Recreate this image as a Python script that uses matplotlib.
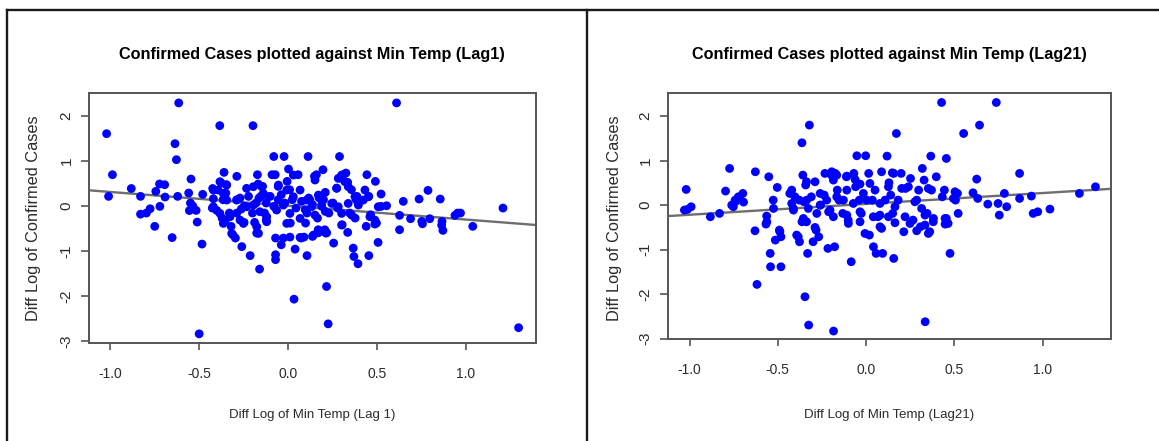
import matplotlib
matplotlib.use('Agg')
import matplotlib.pyplot as plt
import numpy as np
from matplotlib import font_manager
from matplotlib.lines import Line2D

# ---- data ----
lag1_points = [
    (-1.021, 1.607), (-0.615, 2.29), (-0.384, 1.785), (-0.197, 1.785), (0.611, 2.29),
    (-0.636, 1.385), (-0.628, 1.03), (-0.988, 0.696), (-1.01, 0.215), (-0.882, 0.39),
    (-0.83, 0.215), (-0.83, -0.18), (-0.797, -0.155), (-0.776, -0.06), (-0.75, -0.45),
    (-0.744, 0.326), (-0.723, 0.49), (-0.694, 0.474), (-0.721, -0.007), (-0.692, 0.2),
    (-0.652, -0.7), (-0.621, 0.215), (-0.546, 0.6), (-0.559, 0.29), (-0.549, 0.067),
    (-0.555, -0.1), (-0.536, 0.0), (-0.517, -0.096), (-0.511, -0.356), (-0.484, -0.844),
    (-0.5, -2.837), (-0.48, 0.26), (-0.424, 0.39), (-0.42, 0.163), (-0.426, -0.044),
    (-0.401, -0.096), (-0.36, 0.748), (-0.376, 0.51), (-0.347, 0.474), (-0.35, 0.29),
    (-0.365, 0.14), (-0.371, -0.267), (-0.354, -0.34), (-0.33, -0.155), (-0.32, -0.45),
    (-0.31, -0.64), (-0.296, -0.71), (-0.288, 0.66), (-0.288, 0.14), (-0.27, 0.178),
    (-0.263, -0.067), (-0.26, -0.9), (-0.247, -0.363), (-0.222, 0.215), (-0.213, -1.1),
    (-0.2, -0.155), (-0.188, -0.363), (-0.18, 0.067), (-0.172, 0.696), (-0.168, 0.49),
    (-0.16, -1.4), (-0.153, 0.215), (-0.176, -0.6), (-0.143, 0.437), (-0.132, -0.155),
    (-0.122, -0.304), (-0.08, 1.1), (-0.022, 1.1), (-0.09, 0.696), (-0.072, 0.696),
    (-0.07, -1.19), (-0.07, -1.08), (-0.07, -0.71), (-0.038, -0.86), (-0.026, -0.71),
    (-0.055, 0.437), (-0.055, 0.14), (-0.1, 0.215), (0.003, 0.822), (-0.005, 0.548),
    (0.009, 0.363), (-0.018, 0.067), (0.013, -0.378), (0.011, -0.689), (0.04, -0.956),
    (0.034, -2.067), (0.057, 0.696), (0.074, -0.71), (0.107, -1.1), (0.113, 1.1),
    (0.09, -0.689), (0.099, -0.378), (0.107, -0.155), (0.117, 0.178), (0.138, -0.674),
    (0.149, 0.66), (0.16, 0.696), (0.166, -0.267), (0.17, -0.526), (0.176, 0.178),
    (0.197, 0.807), (0.2, 0.14), (0.207, -0.526), (0.217, -1.785), (0.226, -2.615),
    (0.21, 0.304), (0.213, -0.6), (0.23, -0.155), (0.257, -0.822), (0.274, 0.4),
    (0.28, -0.044), (0.29, 1.1), (0.295, 0.622), (0.305, -0.415), (0.311, 0.696),
    (0.326, 0.733), (0.336, 0.526), (0.336, -0.585), (0.347, -0.155), (0.357, 0.363),
    (0.367, -0.933), (0.371, -1.12), (0.384, 0.14), (0.388, 0.215), (0.394, -1.28),
    (0.378, -0.267), (0.444, 0.696), (0.44, -0.45), (0.455, -1.1), (0.455, 0.215),
    (0.465, -0.193), (0.492, 0.548), (0.498, -0.378), (0.507, -0.807), (0.524, 0.267),
    (0.524, -0.007), (0.555, 0.007), (0.628, -0.207), (0.628, -0.526), (0.649, 0.104),
    (0.69, -0.281), (0.738, 0.156), (0.753, -0.34), (0.757, -0.393), (0.788, 0.348),
    (0.798, -0.281), (0.857, 0.156), (0.867, -0.34), (0.872, -0.54), (0.94, -0.207),
    (0.955, -0.155), (0.971, -0.155), (1.04, -0.45), (1.21, -0.044), (1.298, -2.7),
    (-0.383, 0.541), (-0.42, 0.356), (-0.393, 0.356), (-0.345, 0.467), (-0.364, 0.281),
    (-0.345, 0.133), (-0.289, 0.133), (-0.233, 0.393), (-0.195, 0.43), (-0.148, 0.43),
    (-0.139, 0.281), (-0.111, 0.207), (-0.054, 0.467), (0.03, 0.689), (-0.007, 0.356),
    (0.03, 0.207), (0.068, 0.356), (0.105, 0.133), (-0.233, -0.015), (-0.195, 0.022),
    (-0.158, -0.126), (-0.12, -0.237), (-0.064, -0.089), (-0.026, 0.022), (0.011, -0.163),
    (0.068, -0.274), (-0.42, -0.015), (-0.383, -0.163), (-0.326, -0.237), (-0.27, -0.311),
    (0.152, 0.578), (0.283, 0.615), (0.302, 0.689), (0.32, 0.541), (0.339, 0.43),
    (0.274, 0.393), (0.433, 0.356), (0.452, 0.207), (0.424, 0.133), (0.124, 0.133),
    (0.171, 0.244), (0.133, -0.015), (0.189, 0.022), (0.246, 0.059), (0.283, -0.015),
    (0.339, 0.059), (0.377, 0.207), (0.396, 0.022), (0.302, -0.163), (0.358, -0.2),
    (0.152, -0.2), (0.461, -0.237), (0.489, -0.311), (0.508, -0.015),
    (-0.364, -0.385), (-0.317, -0.607), (-0.251, -0.385), (-0.176, -0.459), (-0.166, -0.607),
    (0.068, -0.696), (-0.007, -0.385), (-0.12, -0.348),
    (0.865, -0.422), (0.143, -0.644), (0.171, -0.593), (0.218, -0.593), (0.302, -0.422),
    (0.489, -0.4),
    (-0.163, 0.178), (-0.122, 0.067), (-0.08, -0.007), (-0.038, 0.252), (0.024, 0.141),
    (0.045, -0.044), (0.076, 0.104), (0.097, -0.081), (0.138, 0.03), (0.19, -0.007),
    (0.21, -0.119), (0.253, 0.067), (-0.247, 0.0), (-0.288, -0.155),
]

lag21_points = [
    (-1.019, 0.352), (-1.029, -0.112), (-1.012, -0.097), (-0.991, -0.037), (-0.882, -0.262),
    (-0.83, -0.187), (-0.796, 0.315), (-0.773, 0.824), (-0.752, -0.037), (-0.74, 0.075),
    (-0.719, 0.15), (-0.698, 0.262), (-0.694, 0.067), (-0.627, 0.749), (-0.629, -0.577),
    (-0.618, -1.783), (-0.551, 0.637), (-0.562, -0.375), (-0.543, -1.086), (-0.541, -1.386),
    (-0.526, 0.112), (-0.524, -0.075), (-0.503, 0.397), (-0.514, -0.787), (-0.488, -0.599),
    (-0.482, -0.712), (-0.482, -1.386), (-0.432, 0.262), (-0.421, 0.037), (-0.411, -0.112),
    (-0.384, -0.712), (-0.377, -0.824), (-0.363, 1.401), (-0.358, 0.674), (-0.352, 0.075),
    (-0.363, -0.375), (-0.346, -2.06), (-0.337, 0.524), (-0.337, -0.375), (-0.331, -1.086),
    (-0.321, 1.798), (-0.325, -2.697), (-0.31, 0.187), (-0.3, -0.824), (-0.289, 0.524),
    (-0.283, -0.562), (-0.268, -0.712), (-0.258, 0.0), (-0.237, 0.225), (-0.233, 0.712),
    (-0.216, -0.974), (-0.212, -0.15), (-0.195, 0.674), (-0.184, -2.831), (-0.178, -0.936),
    (-0.174, 0.712), (-0.163, 0.337), (-0.153, 0.112), (-0.132, -0.187), (-0.111, 0.637),
    (-0.101, -0.337), (-0.084, -1.273), (-0.069, 0.712), (-0.052, 1.109), (-0.002, 1.109),
    (-0.059, 0.412), (-0.038, 0.112), (-0.027, -0.187), (-0.006, -0.637), (0.015, 0.712),
    (0.019, -0.674), (0.036, 0.112), (0.042, -0.936), (0.057, -1.086), (0.088, 0.749),
    (0.067, -0.262), (0.094, -1.086), (0.088, -0.524), (0.119, 1.101), (0.13, 0.502),
    (0.14, 0.225), (0.151, -0.187), (0.157, 0.712), (0.157, -1.199), (0.172, 1.61),
    (0.182, 0.112), (0.199, 0.712), (0.214, -0.599), (0.224, 0.375), (0.252, 0.599),
    (0.266, -0.337), (0.287, 0.112), (0.298, 0.337), (0.308, -0.487), (0.319, 0.824),
    (0.329, 0.562), (0.335, -2.622), (0.346, -0.187), (0.361, -0.599), (0.367, 1.101),
    (0.371, 0.337), (0.382, -0.3), (0.398, 0.637), (0.428, 2.307), (0.455, 1.049),
    (0.444, 0.337), (0.455, -0.3), (0.465, -0.412), (0.476, -1.086), (0.507, 0.112),
    (0.518, 0.262), (0.522, -0.187), (0.553, 1.61), (0.606, 0.277), (0.627, 0.584),
    (0.633, 0.15), (0.643, 1.798), (0.69, 0.022), (0.738, 2.307), (0.748, 0.037),
    (0.755, -0.225), (0.784, 0.262), (0.797, -0.037), (0.87, 0.712), (0.87, 0.15),
    (0.937, 0.202), (0.947, -0.187), (0.973, -0.15), (1.042, -0.09), (1.209, 0.262),
    (1.3, 0.412),
    (-0.342, 0.452), (-0.194, 0.75), (-0.166, 0.674), (-0.185, 0.562), (-0.109, 0.652),
    (-0.062, 0.577), (-0.034, 0.472), (0.022, 0.487), (0.051, 0.337), (-0.015, 0.262),
    (-0.109, 0.337), (-0.166, 0.187), (-0.223, 0.112), (-0.26, 0.262), (-0.26, 0.0),
    (-0.204, -0.112), (-0.128, 0.112), (-0.072, 0.037), (0.004, 0.112), (0.079, 0.037),
    (-0.421, 0.337), (-0.403, 0.187), (-0.378, 0.112), (-0.336, 0.112), (-0.327, -0.075),
    (-0.412, -0.075), (-0.355, -0.3), (0.041, -0.262), (0.079, -0.225), (-0.034, -0.15),
    (-0.109, -0.225), (-0.185, -0.262), (-0.279, -0.187), (-0.563, -0.247), (-0.761, 0.0),
    (-0.723, 0.187), (-0.742, 0.112),
    (0.149, 0.726), (0.127, 0.412), (0.202, 0.375), (0.24, 0.412), (0.353, 0.375),
    (0.432, 0.187), (0.504, 0.3), (0.495, 0.15), (0.108, 0.112), (0.164, -0.037),
    (0.277, 0.075), (0.315, -0.075), (0.221, -0.262), (0.334, -0.225), (0.448, -0.3),
    (0.127, -0.262),
    (-0.567, -0.427), (-0.491, -0.562), (-0.393, -0.674), (-0.289, -0.502), (-0.1, -0.412),
    (-0.034, -0.375), (0.079, -0.487),
    (0.287, -0.577), (0.353, -0.637), (0.334, -0.449), (0.448, -0.427), (0.381, -0.374),
    (0.164, -0.397), (0.249, -0.412),
]

lag1_x, lag1_y = zip(*lag1_points)
lag21_x, lag21_y = zip(*lag21_points)

# fitted lines (intercept, slope)
lag1_fit = (0.007, -0.306)
lag21_fit = (0.027, 0.244)

titles = ['Confirmed Cases plotted against Min Temp (Lag1)',
          'Confirmed Cases plotted against Min Temp (Lag21)']
xlabels = ['Diff Log of Min Temp (Lag 1)', 'Diff Log of Min Temp (Lag21)']
ylabel = 'Diff Log of Confirmed Cases'
xticks = [-1.0, -0.5, 0.0, 0.5, 1.0]
xtick_labels = ['-1.0', '-0.5', '0.0', '0.5', '1.0']
yticks = [-3, -2, -1, 0, 1, 2]
ytick_labels = ['-3', '-2', '-1', '0', '1', '2']

# ---- fonts: the source text looks horizontally condensed ----
names = {f.name for f in font_manager.fontManager.ttflist}
if 'Liberation Sans Narrow' in names:
    flat_font = 'Liberation Sans Narrow'
    title_size, tick_size, xlab_size = 14.3, 12.0, 11.5
else:
    flat_font = 'Liberation Sans'
    title_size, tick_size, xlab_size = 11.7, 10.0, 9.5
upright_font = 'Liberation Sans'
text_color = '#2b2b2b'
axis_color = '#555555'

W, H = 1159, 441
fig = plt.figure(figsize=(W / 100, H / 100), dpi=100, facecolor='white')


def px_rect(left, top, right, bottom):
    return [left / W, 1 - bottom / H, (right - left) / W, (bottom - top) / H]


panels = [
    dict(x=lag1_x, y=lag1_y, fit=lag1_fit, rect=px_rect(89, 93, 536, 343),
         xlim=(-1.12, 1.396), ylim=(-3.04, 2.51), cx=312, ylab_x=34),
    dict(x=lag21_x, y=lag21_y, fit=lag21_fit, rect=px_rect(668, 93, 1111, 339),
         xlim=(-1.122, 1.388), ylim=(-3.01, 2.52), cx=889, ylab_x=614),
]

for i, p in enumerate(panels):
    ax = fig.add_axes(p['rect'])
    ax.scatter(p['x'], p['y'], s=40, color='#0000ff', edgecolors='none', zorder=3)
    b, m = p['fit']
    ax.axline((0, b), slope=m, color='#6e6e6e', lw=1.7, zorder=2)
    ax.set_xlim(*p['xlim'])
    ax.set_ylim(*p['ylim'])

    ax.set_xticks(xticks)
    ax.set_xticklabels(xtick_labels, fontfamily=flat_font, fontsize=tick_size,
                       color=text_color)
    ax.set_yticks(yticks)
    ax.set_yticklabels(ytick_labels, fontfamily=upright_font, fontsize=11,
                       color=text_color, rotation=90, va='center')
    ax.tick_params(axis='x', length=5, width=1.2, color=axis_color, pad=12)
    ax.tick_params(axis='y', length=6, width=1.2, color=axis_color, pad=5)
    for sp in ax.spines.values():
        sp.set_color(axis_color)
        sp.set_linewidth(1.4)

    fig.text(p['cx'] / W, 1 - 54 / H, titles[i], ha='center', va='center',
             fontfamily=flat_font, fontweight='bold', fontsize=title_size, color='black')
    fig.text(p['cx'] / W, 1 - 415 / H, xlabels[i], ha='center', va='center',
             fontfamily=flat_font, fontsize=xlab_size, color=text_color)
    fig.text(p['ylab_x'] / W, 1 - 218 / H, ylabel, ha='center', va='center',
             rotation=90, fontfamily=upright_font, fontsize=11.8, color=text_color)

# table-like frame around the two panels
frame = dict(color='#1a1a1a', lw=1.7, transform=None)
for xs, ys in [([7, W], [H - 10, H - 10]), ([7, 7], [H - 10, 0]), ([587, 587], [H - 10, 0])]:
    fig.add_artist(Line2D(xs, ys, **frame))

fig.savefig('out.png', dpi=100, facecolor='white')
